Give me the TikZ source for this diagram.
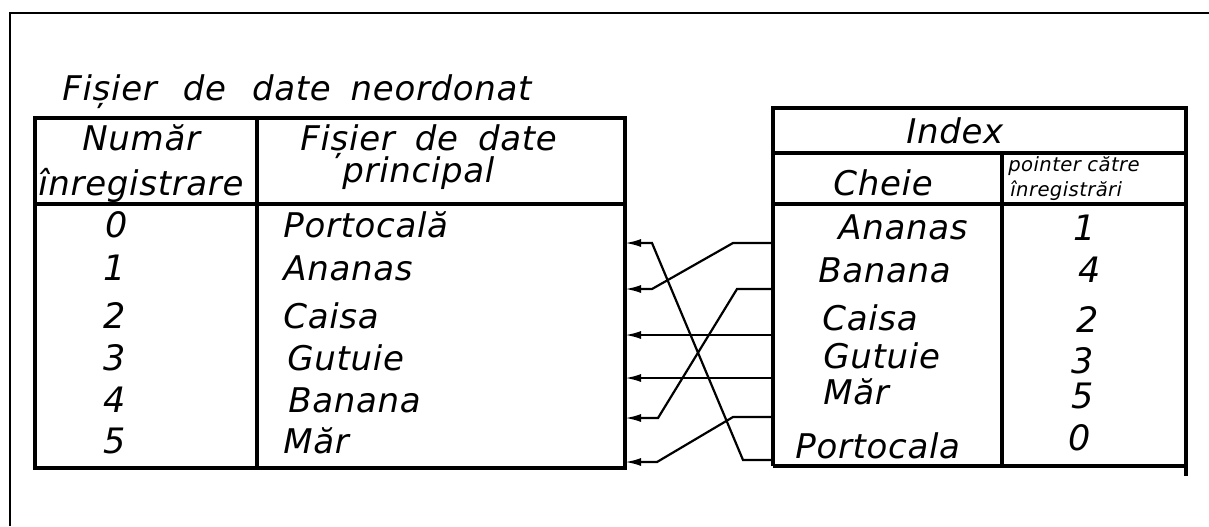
\documentclass[tikz,border=0pt]{standalone}
\usepackage{fontspec}
\setmainfont{DejaVu Sans}[LetterSpace=2]
\usetikzlibrary{arrows.meta}
\begin{document}
\begin{tikzpicture}[x=0.5pt,y=-0.5pt,
  frame/.style={line width=1.1pt},
  tbl/.style={line width=2pt},
  link/.style={line width=1.1pt},
  tip/.style={-{Latex[length=8pt,width=4pt]}},
  lbl/.style={inner sep=0pt,anchor=base west,font=\fontsize{17}{20}\selectfont\itshape},
  num/.style={inner sep=0pt,anchor=base,font=\fontsize{17.5}{20}\selectfont\itshape},
  small/.style={inner sep=0pt,anchor=base west,font=\fontsize{9.8}{11}\selectfont\itshape}]
\useasboundingbox (0,0) rectangle (1209,526);
% outer frame
\draw[frame] (10,526) -- (10,13) -- (1209,13);
% title
\node[lbl] (title) at (62,100) {Fișier\hspace{13pt}de\hspace{13pt}date\hspace{10pt}neordonat};
% left table
\draw[tbl] (35,118) rectangle (625,468);
\draw[tbl] (35,204) -- (625,204);
\draw[tbl] (257,118) -- (257,470);
\node[lbl] (hnum1) at (82,150) {Număr};
\node[lbl] (hnum2) at (38,195) {înregistrare};
\node[lbl] (hfis1) at (300,150) {Fișier\hspace{10pt}de\hspace{10pt}date};
\node[lbl] (hfis2) at (342,182) {principal};
\node[num] (n0) at (117,237) {0};
\node[num] (n1) at (115,280) {1};
\node[num] (n2) at (115,328) {2};
\node[num] (n3) at (115,370) {3};
\node[num] (n4) at (115,412) {4};
\node[num] (n5) at (115,453) {5};
\node[lbl] (f0) at (283,237) {Portocală};
\node[lbl] (f1) at (283,280) {Ananas};
\node[lbl] (f2) at (283,328) {Caisa};
\node[lbl] (f3) at (287,370) {Gutuie};
\node[lbl] (f4) at (288,412) {Banana};
\node[lbl] (f5) at (283,453) {Măr};
% right table
\draw[tbl] (773,466) -- (773,108) -- (1186,108) -- (1186,476);
\draw[tbl] (773,466) -- (1186,466);
\draw[tbl] (773,153) -- (1186,153);
\draw[tbl] (773,204) -- (1186,204);
\draw[tbl] (1002,153) -- (1002,466);
\node[lbl] (hidx) at (906,143) {Index};
\node[lbl] (hkey) at (833,195) {Cheie};
\node[small] (hptr1) at (1008,171) {pointer către};
\node[small] (hptr2) at (1010,196) {înregistrări};
\node[lbl] (k0) at (838,239) {Ananas};
\node[lbl] (k1) at (818,282) {Banana};
\node[lbl] (k2) at (822,330) {Caisa};
\node[lbl] (k3) at (823,368) {Gutuie};
\node[lbl] (k4) at (823,404) {Măr};
\node[lbl] (k5) at (795,458) {Portocala};
\node[num] (p0) at (1085,240) {1};
\node[num] (p1) at (1090,282) {4};
\node[num] (p2) at (1088,332) {2};
\node[num] (p3) at (1083,373) {3};
\node[num] (p4) at (1083,408) {5};
\node[num] (p5) at (1080,450) {0};
% connector ends
\coordinate (L0) at (625,243);
\coordinate (L1) at (625,289);
\coordinate (L2) at (625,335);
\coordinate (L3) at (625,378);
\coordinate (L4) at (625,418);
\coordinate (L5) at (625,462);
\coordinate (RA) at (773,243);
\coordinate (RB) at (773,289);
\coordinate (RC) at (773,335);
\coordinate (RG) at (773,378);
\coordinate (RM) at (773,417);
\coordinate (RP) at (773,460);
% connectors
\draw[link,tip] (RP) -- (743,460) -- (652,243) -- (L0);
\draw[link,tip] (RA) -- (733,243) -- (652,289) -- (L1);
\draw[link,tip] (RC) -- (L2);
\draw[link,tip] (RG) -- (L3);
\draw[link,tip] (RB) -- (737,289) -- (658,418) -- (L4);
\draw[link,tip] (RM) -- (733,417) -- (657,462) -- (L5);
\end{tikzpicture}
\end{document}
